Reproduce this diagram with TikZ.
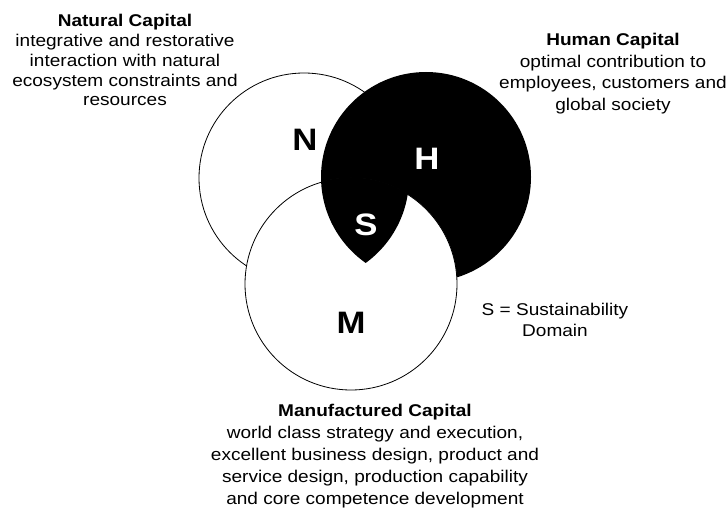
\documentclass[tikz,border=0pt]{standalone}
\usepackage{fontspec}
\newfontfamily\lab[FakeStretch=1.12]{Liberation Sans}
\begin{document}
\begin{tikzpicture}[x=1pt,y=-1pt,
  desc/.style={inner sep=0pt, align=center, anchor=north, text=black},
  big/.style={inner sep=0pt, anchor=base, font=\lab\fontsize{31}{31}\selectfont\bfseries},
  ring/.style={draw=black, line width=0.8pt}]
\fill[white] (0,0) rectangle (728,513);
\useasboundingbox (0,0) rectangle (728,513);
\coordinate (cN) at (304,178);
\coordinate (cH) at (426,177);
\coordinate (cM) at (351,284);
% circles
\fill[white] (cN) circle[radius=105pt];
\draw[ring] (cN) circle[radius=105pt];
\fill[black] (cH) circle[radius=105pt];
\filldraw[ring, fill=white] (cM) circle[radius=106pt];
\begin{scope}
  \clip (cN) circle[radius=105pt];
  \clip (cH) circle[radius=105pt];
  \fill[black] (cM) circle[radius=106.5pt];
\end{scope}
% letters
\node[big, text=black] (nN) at (305,151) {N};
\node[big, text=white] (nH) at (427,170) {H};
\node[big, text=white] (nS) at (366,235) {S};
\node[big, text=black] (nM) at (351,333) {M};
% descriptions
\node[desc, font=\lab\fontsize{17}{19.8}\selectfont] (natural) at (125,12.7)
  {\strut\textbf{Natural Capital}\\integrative and restorative\\interaction with natural\\ecosystem constraints and\\resources};
\node[desc, font=\lab\fontsize{17}{21.5}\selectfont] (human) at (613,30.5)
  {\textbf{Human Capital}\strut\\optimal contribution to\\employees, customers and\\global society};
\node[desc, font=\lab\fontsize{17}{22}\selectfont] (manuf) at (375,400.6)
  {\textbf{Manufactured Capital}\strut\\world class strategy and execution,\\excellent business design, product and\\service design, production capability\\and core competence development};
\node[desc, font=\lab\fontsize{17}{21.7}\selectfont] (sdom) at (555,299.9)
  {S = Sustainability\strut\\Domain};
\end{tikzpicture}
\end{document}
